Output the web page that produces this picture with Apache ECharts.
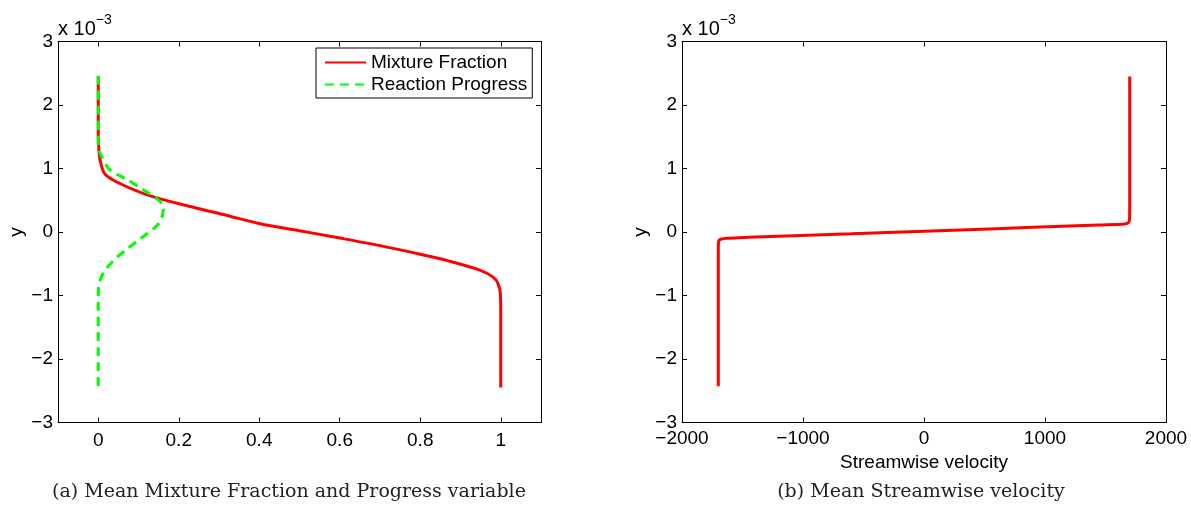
<!DOCTYPE html>
<html>
<head>
<meta charset="utf-8">
<script src="https://cdn.jsdelivr.net/npm/echarts@6/dist/echarts.min.js"></script>
<style>
  html, body { margin: 0; padding: 0; background: #fff; }
  #chart { width: 1191px; height: 511px; }
</style>
</head>
<body>
<div id="chart"></div>
<script>
// Cross-stream coordinate y is stored in units of 1e-3.

// Mean mixture fraction profile
const mixY = [2.45, 1.60, 1.35, 1.12, 0.91, 0.76, 0.57, 0.39, 0.26, 0.13, 0.02, -0.095, -0.215, -0.35, -0.455, -0.60, -0.71, -0.81, -0.97, -1.30, -2.45];
const mixZ = [0, 0, 0.001, 0.005, 0.017, 0.055, 0.129, 0.236, 0.32, 0.402, 0.50, 0.60, 0.70, 0.80, 0.87, 0.948, 0.981, 0.993, 0.999, 1.0, 1.0];

// Mean reaction progress profile
const progY = [2.46, 1.35, 1.18, 0.97, 0.83, 0.68, 0.52, 0.39, 0.23, 0.10, -0.11, -0.27, -0.45, -0.64, -0.87, -1.10, -2.48];
const progC = [0, 0, 0.009, 0.03, 0.071, 0.108, 0.146, 0.162, 0.158, 0.146, 0.104, 0.071, 0.038, 0.013, 0.001, 0, 0];

// Mean streamwise velocity profile
const velY = [2.45, 1.00, 0.40, 0.22, 0.17, 0.145, 0.125, 0.11, 0.093, 0.053, 0.013, -0.027, -0.067, -0.084, -0.10, -0.115, -0.135, -0.18, -0.40, -1.00, -2.43];
const velU = [1700, 1700, 1700, 1699, 1696, 1688, 1660, 1450, 1200, 600, 0, -600, -1200, -1450, -1630, -1680, -1695, -1699, -1700, -1700, -1700];

// Tick positions
const fracTicks = [0, 0.2, 0.4, 0.6, 0.8, 1];
const yTicks = [-3, -2, -1, 0, 1, 2, 3];
const velTicks = [-2000, -1000, 0, 1000, 2000];

const SANS = '"Liberation Sans", Arial, Helvetica, sans-serif';
const SERIF = '"DejaVu Serif", "Liberation Serif", serif';
const FS = 19;
const minus = v => String(v).replace('-', '\u2212');

const pairs = (xs, ys) => ys.map((y, i) => [xs[i], y]);

const lineAxis = { show: true, onZero: false, lineStyle: { color: '#000', width: 1 } };
const tickStyle = (vals) => ({ show: true, inside: true, length: 5, customValues: vals, lineStyle: { color: '#000', width: 1 } });
const labelStyle = (vals, margin) => ({
  show: true, customValues: vals, margin: margin, formatter: minus,
  color: '#000', fontFamily: SANS, fontSize: FS
});

function xPair(grid, min, max, ticks, margin, extra) {
  return [
    Object.assign({
      type: 'value', gridIndex: grid, position: 'bottom', min: min, max: max,
      axisLine: lineAxis, axisTick: tickStyle(ticks), axisLabel: labelStyle(ticks, margin),
      splitLine: { show: false }
    }, extra || {}),
    {
      type: 'value', gridIndex: grid, position: 'top', min: min, max: max,
      axisLine: lineAxis, axisTick: tickStyle(ticks), axisLabel: { show: false },
      splitLine: { show: false }
    }
  ];
}

function yPair(grid) {
  return [
    {
      type: 'value', gridIndex: grid, position: 'left', min: -3, max: 3, interval: 1,
      name: 'y', nameLocation: 'middle', nameGap: 32,
      nameTextStyle: { color: '#000', fontFamily: SANS, fontSize: FS },
      axisLine: lineAxis, axisTick: tickStyle(yTicks), axisLabel: labelStyle(yTicks, 5),
      splitLine: { show: false }
    },
    {
      type: 'value', gridIndex: grid, position: 'right', min: -3, max: 3, interval: 1,
      axisLine: lineAxis, axisTick: tickStyle(yTicks), axisLabel: { show: false },
      splitLine: { show: false }
    }
  ];
}

function scaleNote(x) {
  return {
    type: 'text', x: x, y: 39,
    style: {
      text: '{a|x 10}{b|\u22123}',
      textVerticalAlign: 'bottom',
      rich: {
        a: { fontFamily: SANS, fontSize: 20, color: '#000', padding: [6, 0, 0, 0], verticalAlign: 'bottom' },
        b: { fontFamily: SANS, fontSize: 14, color: '#000', verticalAlign: 'top' }
      }
    }
  };
}

function caption(x, text) {
  return {
    type: 'text', x: x, y: 492,
    style: { text: text, textAlign: 'center', textVerticalAlign: 'middle', fill: '#222', font: '19px ' + SERIF }
  };
}

const chart = echarts.init(document.getElementById('chart'), null, { renderer: 'canvas' });

chart.setOption({
  animation: false,
  backgroundColor: '#fff',
  grid: [
    { left: 58, top: 41.5, width: 483, height: 381 },
    { left: 682, top: 41.5, width: 484, height: 381 }
  ],
  xAxis: [].concat(
    xPair(0, -0.1, 1.1, fracTicks, 9),
    xPair(1, -2000, 2000, velTicks, 7, {
      interval: 1000,
      name: 'Streamwise velocity', nameLocation: 'middle', nameGap: 29,
      nameTextStyle: { color: '#000', fontFamily: SANS, fontSize: FS }
    })
  ),
  yAxis: [].concat(yPair(0), yPair(1)),
  legend: {
    left: 316, top: 48, orient: 'vertical',
    itemWidth: 41, itemHeight: 19, itemGap: 3,
    padding: [5, 5, 4, 8],
    borderColor: '#000', borderWidth: 1, backgroundColor: '#fff',
    itemStyle: { opacity: 0 },
    textStyle: { color: '#000', fontFamily: SANS, fontSize: FS },
    data: ['Mixture Fraction', 'Reaction Progress']
  },
  graphic: [
    scaleNote(58),
    scaleNote(682),
    caption(289, '(a) Mean Mixture Fraction and Progress variable'),
    caption(921, '(b) Mean Streamwise velocity')
  ],
  series: [
    {
      name: 'Mixture Fraction', type: 'line', xAxisIndex: 0, yAxisIndex: 0,
      data: pairs(mixZ, mixY), symbol: 'none', smooth: 0.3,
      lineStyle: { color: '#ff0000', width: 3 }, itemStyle: { color: '#ff0000' }, z: 2
    },
    {
      name: 'Reaction Progress', type: 'line', xAxisIndex: 0, yAxisIndex: 0,
      data: pairs(progC, progY), symbol: 'none', smooth: 0.3,
      lineStyle: { color: '#00ff00', width: 3, type: [9, 6] }, itemStyle: { color: '#00ff00' }, z: 3
    },
    {
      name: 'Streamwise velocity', type: 'line', xAxisIndex: 2, yAxisIndex: 2,
      data: pairs(velU, velY), symbol: 'none', smooth: 0.3,
      lineStyle: { color: '#ff0000', width: 3 }, itemStyle: { color: '#ff0000' }
    }
  ]
});
</script>
</body>
</html>
